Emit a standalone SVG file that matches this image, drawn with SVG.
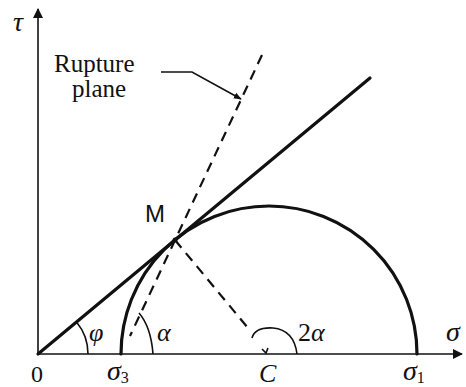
<svg xmlns="http://www.w3.org/2000/svg" width="466" height="387" viewBox="0 0 466 387">
<defs>
<style>
.ax{stroke:#111;stroke-width:1.6;fill:none}
.thick{stroke:#111;stroke-width:3.2;fill:none;stroke-linecap:round}
.thin{stroke:#111;stroke-width:1.6;fill:none}
.dash{stroke:#111;stroke-width:2.2;fill:none;stroke-dasharray:10,7}
.lbl{font-family:"Liberation Serif",serif;font-style:italic;fill:#111}
.txt{font-family:"Liberation Serif",serif;fill:#111}
.sans{font-family:"Liberation Sans",sans-serif;fill:#111}
</style>
<marker id="ah" viewBox="0 0 10 10" refX="9" refY="5" markerWidth="8" markerHeight="8" orient="auto" markerUnits="userSpaceOnUse"><path d="M0,1 L10,5 L0,9 Z" fill="#111"/></marker>
<marker id="ahBig" viewBox="0 0 10 10" refX="9" refY="5" markerWidth="18" markerHeight="10" orient="auto" markerUnits="userSpaceOnUse"><path d="M0,0 L10,5 L0,10 Z" fill="#111"/></marker>
</defs>
<g id="connectors">
<line id="sigma-axis" class="ax" x1="38" y1="354" x2="462" y2="354" marker-end="url(#ahBig)"/>
<line id="tau-axis" class="ax" x1="38" y1="354" x2="38" y2="9" marker-end="url(#ahBig)"/>
<line id="envelope" class="thick" x1="38" y1="354" x2="370" y2="78"/>
<path id="mohr-circle" class="thick" d="M121,354 A148,148 0 0 1 417,354"/>
<line id="rupture-plane" class="dash" x1="262" y1="55" x2="130" y2="336"/>
<line id="radius-CM" class="dash" x1="175" y1="240" x2="248" y2="328"/>
<path id="phi-arc" class="thin" d="M88,354 A50,50 0 0 0 76.5,322"/>
<path id="alpha-arc" class="thin" d="M153,354 Q151,327 139,313"/>
<path id="two-alpha-arc" class="thin" d="M297,354 Q294,330 273,328 Q255,327 252,338"/>
<path class="thin" d="M262,349 L266,353 L268,348"/>
<polyline id="leader" class="thin" points="161,72 192,72 241,99" marker-end="url(#ah)"/>
</g>
<g id="node-M"><circle cx="175" cy="240" r="2.5" fill="#111"/><text class="sans" x="145" y="222" font-size="24">M</text></g>
<g id="label-rupture"><text class="txt" x="54" y="72" font-size="25">Rupture</text><text class="txt" x="72" y="97" font-size="25">plane</text></g>
<g id="label-tau"><text class="lbl" x="13" y="31" font-size="28">τ</text></g>
<g id="label-sigma"><text class="lbl" x="446" y="341" font-size="28">σ</text></g>
<g id="label-phi"><text class="lbl" x="89" y="341" font-size="26">φ</text></g>
<g id="label-alpha"><text class="lbl" x="157" y="341" font-size="26">α</text></g>
<g id="label-2alpha"><text class="lbl" x="298" y="341" font-size="26"><tspan font-style="normal">2</tspan>α</text></g>
<g id="label-O"><text class="txt" x="31" y="382" font-size="24">0</text></g>
<g id="label-s3"><text class="lbl" x="107" y="380" font-size="28">σ<tspan font-style="normal" font-size="16" dy="3">3</tspan></text></g>
<g id="label-C"><text class="lbl" x="259" y="382" font-size="26">C</text></g>
<g id="label-s1"><text class="lbl" x="403" y="380" font-size="28">σ<tspan font-style="normal" font-size="16" dy="3">1</tspan></text></g>
</svg>
